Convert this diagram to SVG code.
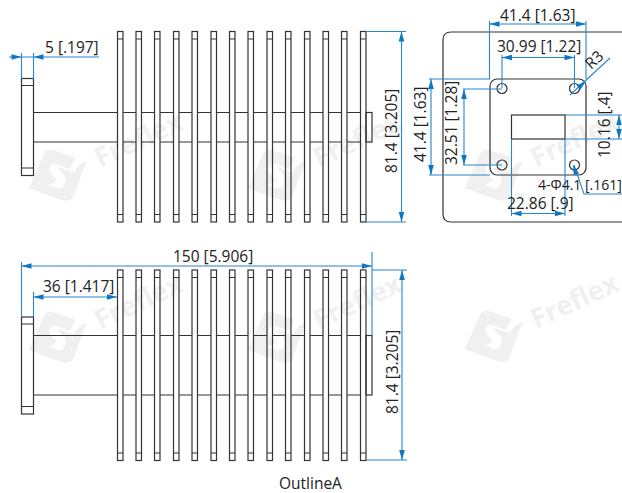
<svg xmlns="http://www.w3.org/2000/svg" width="622" height="493" viewBox="0 0 622 493">
<style>
.o{fill:none;stroke:#333;stroke-width:1.2}
.d{fill:none;stroke:#2a86cc;stroke-width:1.1}
.a{fill:#0f76c4}
.t{font-family:"Open Sans","Noto Sans",sans-serif;font-size:15.5px;fill:#222}
.w{font-family:"Open Sans","Noto Sans",sans-serif;font-size:27px;font-weight:700;fill:#f0f0f0}
</style>
<defs>
<g id="wm">
<g transform="translate(-7 -11) scale(.3333)" fill="#f0f0f0">
<path d="M14 148L60 45Q67 28 85 32L155 56L137 90L98 75Q78 72 76 90Q76 105 100 122L48 158Z"/>
<path d="M188 65L150 168Q142 190 115 184L47 160Q60 140 85 140L100 148Q120 150 124 128Q128 110 108 95Q100 88 105 85L150 100Q160 75 188 65Z"/>
</g>
<text class="w" transform="translate(69 18) rotate(-25)">Freflex</text>
</g>
<g id="fin"><rect class="o" x="0" y="0" width="5.500" height="190.500"/><path class="o" d="M0 7.500H5.500M0 183H5.500"/></g>
<path id="wg" class="o" d="M33.500 0H117.500M123 0H136M141.500 0H154.500M160 0H173.500M179 0H192M197.500 0H211M216.500 0H229.500M235 0H248M253.500 0H267M272.500 0H285.500M291 0H304.500M310 0H323M328.500 0H341.500M347 0H360.500"/>
<path id="ar" class="a" d="M0 0L10 -2.800V2.800Z"/>
</defs>
<g id="watermarks">
<use href="#wm" x="31" y="150"/><use href="#wm" x="250" y="150"/><use href="#wm" x="467" y="150"/>
<use href="#wm" x="31" y="312"/><use href="#wm" x="250" y="312"/><use href="#wm" x="467" y="311"/>
</g>
<g id="side-view-top">
<rect class="o" x="21.500" y="78.500" width="12" height="97"/><path class="o" d="M21.500 85.500H33.500M21.500 168H33.500"/>
<use href="#wg" y="112.500"/><use href="#wg" y="142"/>
<rect class="o" x="366" y="112.500" width="6" height="29.500"/>
<use href="#fin" x="117.500" y="31.500"/><use href="#fin" x="136" y="31.500"/><use href="#fin" x="154.500" y="31.500"/><use href="#fin" x="173.500" y="31.500"/><use href="#fin" x="192" y="31.500"/><use href="#fin" x="211" y="31.500"/><use href="#fin" x="229.500" y="31.500"/><use href="#fin" x="248" y="31.500"/><use href="#fin" x="267" y="31.500"/><use href="#fin" x="285.500" y="31.500"/><use href="#fin" x="304.500" y="31.500"/><use href="#fin" x="323" y="31.500"/><use href="#fin" x="341.500" y="31.500"/><use href="#fin" x="360.500" y="31.500"/>
</g>
<g id="side-view-bottom">
<rect class="o" x="21.500" y="317" width="12" height="97"/><path class="o" d="M21.500 324H33.500M21.500 406.500H33.500"/>
<use href="#wg" y="335.500"/><use href="#wg" y="395"/>
<rect class="o" x="366" y="335.500" width="6" height="59.500"/>
<use href="#fin" x="117.500" y="270"/><use href="#fin" x="136" y="270"/><use href="#fin" x="154.500" y="270"/><use href="#fin" x="173.500" y="270"/><use href="#fin" x="192" y="270"/><use href="#fin" x="211" y="270"/><use href="#fin" x="229.500" y="270"/><use href="#fin" x="248" y="270"/><use href="#fin" x="267" y="270"/><use href="#fin" x="285.500" y="270"/><use href="#fin" x="304.500" y="270"/><use href="#fin" x="323" y="270"/><use href="#fin" x="341.500" y="270"/><use href="#fin" x="360.500" y="270"/>
</g>
<g id="end-view">
<path class="o" d="M622 32H451Q443 32 443 40V214Q443 222 451 222H622"/>
<rect class="o" x="490" y="79" width="96" height="96" rx="7"/>
<rect class="o" x="511.500" y="115" width="53.500" height="24"/>
<circle class="o" cx="502" cy="88.500" r="5"/><circle class="o" cx="574.500" cy="88.500" r="5"/><circle class="o" cx="502" cy="165" r="5"/><circle class="o" cx="574.500" cy="165" r="5"/>
</g>
<g id="connectors">
<path class="d" d="M9 57H99M21.500 53V79M33.500 53V79"/>
<use href="#ar" transform="translate(21.500 57) rotate(180)"/><use href="#ar" transform="translate(33.500 57)"/>
<path class="d" d="M366 31.500H406M366 222H406M401.500 31.500V222"/>
<use href="#ar" transform="translate(401.500 31.500) rotate(90)"/><use href="#ar" transform="translate(401.500 222) rotate(-90)"/>
<path class="d" d="M21.500 266H372M21.500 262V317M33.500 292V317M372 252V336"/>
<use href="#ar" transform="translate(21.500 266)"/><use href="#ar" transform="translate(372 266) rotate(180)"/>
<path class="d" d="M33.500 297H117"/>
<use href="#ar" transform="translate(33.500 297)"/><use href="#ar" transform="translate(117 297) rotate(180)"/>
<path class="d" d="M372 270H407M366 460H407M402 270V460"/>
<use href="#ar" transform="translate(402 270) rotate(90)"/><use href="#ar" transform="translate(402 460) rotate(-90)"/>
<path class="d" d="M489.500 21V79M586 21V79M489.500 24H586"/>
<use href="#ar" transform="translate(489.500 24)"/><use href="#ar" transform="translate(586 24) rotate(180)"/>
<path class="d" d="M502 55V88M574.500 55V88M502 57.500H574.500"/>
<use href="#ar" transform="translate(502 57.500)"/><use href="#ar" transform="translate(574.500 57.500) rotate(180)"/>
<path class="d" d="M429 79H490M429 175H490M431 79V175"/>
<use href="#ar" transform="translate(431 79) rotate(90)"/><use href="#ar" transform="translate(431 175) rotate(-90)"/>
<path class="d" d="M463 89H502M463 165H502M464 89V165"/>
<use href="#ar" transform="translate(464 89) rotate(90)"/><use href="#ar" transform="translate(464 165) rotate(-90)"/>
<path class="d" d="M565 115H622M565 139H622M619 115V139"/>
<use href="#ar" transform="translate(619 115) rotate(90)"/><use href="#ar" transform="translate(619 139) rotate(-90)"/>
<path class="d" d="M511.500 139V216M565 139V216M511.500 213.500H565"/>
<use href="#ar" transform="translate(511.500 213.500)"/><use href="#ar" transform="translate(565 213.500) rotate(180)"/>
<path class="d" d="M570 95L610 58"/>
<use href="#ar" transform="translate(586 81) rotate(138)"/>
<path class="d" d="M574 165L584 194H622"/>
<use href="#ar" transform="translate(573 165) rotate(70)"/>
</g>
<g id="labels">
<text class="t" x="45" y="53">5 [.197]</text>
<text class="t" transform="translate(397 173) rotate(-90)">81.4 [3.205]</text>
<text class="t" x="173" y="262">150 [5.906]</text>
<text class="t" x="43" y="292">36 [1.417]</text>
<text class="t" transform="translate(398 414) rotate(-90)">81.4 [3.205]</text>
<text class="t" x="500" y="21">41.4 [1.63]</text>
<text class="t" x="497" y="52">30.99 [1.22]</text>
<text class="t" transform="translate(426 162) rotate(-90)">41.4 [1.63]</text>
<text class="t" transform="translate(457 165) rotate(-90)">32.51 [1.28]</text>
<text class="t" transform="translate(610 158) rotate(-90)">10.16 [.4]</text>
<text class="t" x="538" y="190" style="font-size:14px">4-Φ4.1 [.161]</text>
<text class="t" x="507" y="209">22.86 [.9]</text>
<text class="t" transform="translate(591 70) rotate(-42)">R3</text>
<text class="t" x="279" y="489">OutlineA</text>
</g>
</svg>
